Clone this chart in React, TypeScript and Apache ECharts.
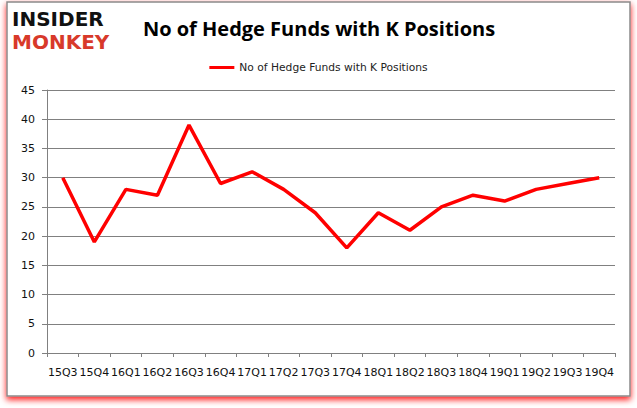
import React, { useEffect, useRef } from "react";
import * as echarts from "echarts";

const categories = ["15Q3","15Q4","16Q1","16Q2","16Q3","16Q4","17Q1","17Q2","17Q3","17Q4","18Q1","18Q2","18Q3","18Q4","19Q1","19Q2","19Q3","19Q4"];
const fundCounts = [30,19,28,27,39,29,31,28,24,18,24,21,25,27,26,28,29,30];
const seriesName = "No of Hedge Funds with K Positions";
const titleText = "No of Hedge Funds with K Positions";

export default function App() {
  const ref = useRef<HTMLDivElement>(null);
  useEffect(() => {
    if (!ref.current) return;
    const chart = echarts.init(ref.current, null, { renderer: "svg" });
    chart.setOption({
      animation: false,
      backgroundColor: "#ffffff",
      graphic: [
        {
          type: "rect",
          z: -10,
          shape: { x: 7, y: 2, width: 623, height: 394 },
          style: {
            fill: "#ffffff",
            stroke: "#8a8a8a",
            lineWidth: 1.5,
            shadowBlur: 6,
            shadowColor: "rgba(255,0,0,0.9)",
            shadowOffsetX: 0,
            shadowOffsetY: 3,
          },
        },
        {
          type: "text",
          left: 12,
          top: 9,
          style: { text: "INSIDER", font: "bold 20px 'DejaVu Sans'", fill: "#111111" },
        },
        {
          type: "text",
          left: 12,
          top: 32,
          style: { text: "MONKEY", font: "bold 20px 'DejaVu Sans'", fill: "#d8392a" },
        },
      ],
      title: {
        text: titleText,
        left: 314,
        textAlign: "center",
        top: 13,
        textStyle: { fontFamily: "Open Sans", fontWeight: "bold", fontSize: 20, color: "#000" },
      },
      legend: {
        top: 57,
        left: "center",
        icon: "rect",
        itemWidth: 25,
        itemHeight: 3,
        itemGap: 5,
        textStyle: { fontFamily: "DejaVu Sans", fontSize: 10.7, color: "#222" },
        data: [seriesName],
      },
      grid: { left: 47, right: 22, top: 90, bottom: 55, containLabel: false },
      xAxis: {
        type: "category",
        data: categories,
        boundaryGap: true,
        axisLine: { lineStyle: { color: "#808080", width: 1 } },
        axisTick: { show: true, length: 4, alignWithLabel: false, lineStyle: { color: "#808080" } },
        axisLabel: { interval: 0, margin: 14, fontFamily: "DejaVu Sans", fontSize: 11, color: "#111" },
        splitLine: { show: false },
      },
      yAxis: {
        type: "value",
        min: 0,
        max: 45,
        interval: 5,
        axisLine: { show: true, lineStyle: { color: "#808080", width: 1 } },
        axisTick: { show: true, length: 5, lineStyle: { color: "#808080" } },
        axisLabel: { margin: 12, fontFamily: "DejaVu Sans", fontSize: 11, color: "#111" },
        splitLine: { show: true, lineStyle: { color: "#808080", width: 1 } },
      },
      series: [
        {
          name: seriesName,
          type: "line",
          data: fundCounts,
          symbol: "none",
          lineStyle: { color: "#ff0000", width: 3.5 },
          itemStyle: { color: "#ff0000" },
        },
      ],
    });
    return () => chart.dispose();
  }, []);
  return <div ref={ref} style={{ position: "fixed", left: 0, top: 0, width: 637, height: 408 }} />;
}
